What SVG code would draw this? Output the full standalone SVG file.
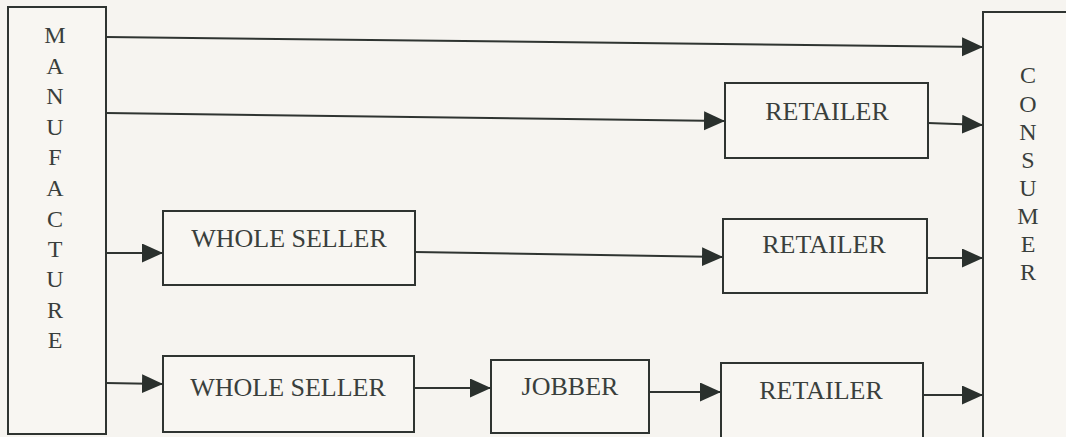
<svg xmlns="http://www.w3.org/2000/svg" width="1066" height="437" viewBox="0 0 1066 437">
<style>
.bg{fill:#f6f4f0}
.box{fill:#f8f6f2;stroke:#2f3431;stroke-width:2}
.lbl{font-family:"Liberation Serif","Times New Roman",serif;font-size:26px;fill:#3a3f3c;text-anchor:middle}
.vl{font-family:"Liberation Serif","Times New Roman",serif;font-size:24px;fill:#3a3f3c;text-anchor:middle}
.cn{fill:none;stroke:#2f3431;stroke-width:2;marker-end:url(#ah)}
</style>
<defs>
<marker id="ah" markerUnits="userSpaceOnUse" markerWidth="22" markerHeight="20" refX="21" refY="9.5" orient="auto">
<path d="M0,0 L21,9.5 L0,19 Z" fill="#2a302d"/>
</marker>
</defs>
<rect class="bg" x="0" y="0" width="1066" height="437"/>
<g id="manufacture">
<rect class="box" x="8" y="7" width="98" height="427"/>
<text class="vl" x="55" y="43">M</text>
<text class="vl" x="55" y="74">A</text>
<text class="vl" x="55" y="104">N</text>
<text class="vl" x="55" y="135">U</text>
<text class="vl" x="55" y="165">F</text>
<text class="vl" x="55" y="196">A</text>
<text class="vl" x="55" y="227">C</text>
<text class="vl" x="55" y="257">T</text>
<text class="vl" x="55" y="287">U</text>
<text class="vl" x="55" y="318">R</text>
<text class="vl" x="55" y="348">E</text>
</g>
<g id="consumer">
<rect class="box" x="983" y="12" width="100" height="440"/>
<text class="vl" x="1028" y="83">C</text>
<text class="vl" x="1028" y="112">O</text>
<text class="vl" x="1028" y="140">N</text>
<text class="vl" x="1028" y="168">S</text>
<text class="vl" x="1028" y="196">U</text>
<text class="vl" x="1028" y="224">M</text>
<text class="vl" x="1028" y="252">E</text>
<text class="vl" x="1028" y="280">R</text>
</g>
<g id="retailer1">
<rect class="box" x="725" y="83" width="203" height="75"/>
<text class="lbl" x="827" y="120">RETAILER</text>
</g>
<g id="wholeseller1">
<rect class="box" x="163" y="211" width="252" height="74"/>
<text class="lbl" x="289" y="247">WHOLE SELLER</text>
</g>
<g id="retailer2">
<rect class="box" x="723" y="219" width="204" height="74"/>
<text class="lbl" x="824" y="253">RETAILER</text>
</g>
<g id="wholeseller2">
<rect class="box" x="163" y="356" width="251" height="76"/>
<text class="lbl" x="288" y="396">WHOLE SELLER</text>
</g>
<g id="jobber">
<rect class="box" x="491" y="360" width="158" height="73"/>
<text class="lbl" x="570" y="395">JOBBER</text>
</g>
<g id="retailer3">
<rect class="box" x="721" y="363" width="202" height="80"/>
<text class="lbl" x="821" y="399">RETAILER</text>
</g>
<g id="connectors">
<line class="cn" x1="106" y1="37" x2="983" y2="47"/>
<line class="cn" x1="106" y1="113" x2="725" y2="121"/>
<line class="cn" x1="106" y1="253" x2="163" y2="253"/>
<line class="cn" x1="106" y1="383" x2="163" y2="384"/>
<line class="cn" x1="415" y1="252" x2="723" y2="257"/>
<line class="cn" x1="928" y1="123" x2="983" y2="125"/>
<line class="cn" x1="927" y1="258" x2="983" y2="258"/>
<line class="cn" x1="414" y1="388" x2="491" y2="388"/>
<line class="cn" x1="649" y1="392" x2="721" y2="392"/>
<line class="cn" x1="923" y1="395" x2="983" y2="395"/>
</g>
</svg>
